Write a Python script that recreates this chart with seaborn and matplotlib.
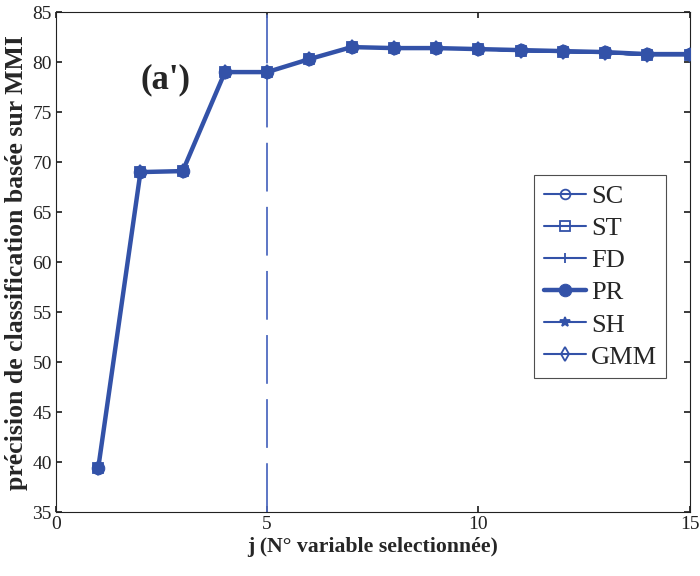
import numpy as np
import pandas as pd
import matplotlib
matplotlib.use("Agg")
import matplotlib.pyplot as plt
import seaborn as sns

j = [1, 2, 3, 4, 5, 6, 7, 8, 9, 10, 11, 12, 13, 14, 15]
sc = [39.4, 69.0, 69.1, 79.0, 79.0, 80.3, 81.5, 81.4, 81.4, 81.3, 81.1, 81.0, 80.9, 80.7, 80.7]
st = [39.4, 69.0, 69.1, 79.0, 79.0, 80.3, 81.5, 81.4, 81.4, 81.3, 81.1, 81.0, 80.9, 80.7, 80.7]
fd = [39.4, 69.0, 69.1, 79.0, 79.0, 80.3, 81.5, 81.4, 81.4, 81.3, 81.1, 81.0, 80.9, 80.7, 80.7]
pr = [39.4, 69.0, 69.1, 79.0, 79.0, 80.3, 81.5, 81.4, 81.4, 81.3, 81.2, 81.1, 81.0, 80.8, 80.8]
sh = [39.4, 69.0, 69.1, 79.0, 79.0, 80.3, 81.5, 81.4, 81.4, 81.3, 81.1, 81.0, 80.9, 80.7, 80.7]
gmm = [39.4, 69.0, 69.1, 79.0, 79.0, 80.3, 81.5, 81.4, 81.4, 81.3, 81.1, 81.0, 80.9, 80.7, 80.7]
series_names = ["SC", "ST", "FD", "PR", "SH", "GMM"]
series_vals = [sc, st, fd, pr, sh, gmm]
markers = ["o", "s", "|", "o", "*", "d"]

sns.set_theme(style="white")
plt.rcParams["font.family"] = ["Liberation Serif", "DejaVu Serif"]

color = "#3352A8"
fig = plt.figure(figsize=(7, 5.76), dpi=100)
ax = fig.add_axes([0.08, 0.111, 0.905, 0.868])

for name, vals, m in zip(series_names, series_vals, markers):
    df = pd.DataFrame({"j": j, "v": vals})
    if name == "PR":
        sns.lineplot(data=df, x="j", y="v", ax=ax, color=color, lw=3.2, marker="o",
                     markersize=9, markeredgecolor=color, markerfacecolor=color, label=name, zorder=5)
    else:
        sns.lineplot(data=df, x="j", y="v", ax=ax, color=color, lw=1.5, marker=m,
                     markersize=7, markeredgecolor=color,
                     markerfacecolor=(color if m == "*" else "none"),
                     markeredgewidth=1.3, label=name)

ax.axvline(5, color="#4F6BC0", lw=1.3, ls=(0, (27, 8.5)), zorder=1)

ax.set_xlim(0, 15)
ax.set_ylim(35, 85)
ax.set_xticks([0, 5, 10, 15])
ax.set_yticks(range(35, 86, 5))
ax.tick_params(direction="in", length=4, labelsize=14, colors="#222222", bottom=True, left=True,
               top=True, right=True, pad=3)
for s in ax.spines.values():
    s.set_color("#222222")
    s.set_linewidth(0.8)

ax.set_xlabel("j (N° variable selectionnée)", fontsize=15.7, fontweight="bold", labelpad=3)
ax.set_ylabel("précision de classification basée sur MMI", fontsize=18.5, fontweight="bold", labelpad=3)

ax.text(2.59, 78.2, "(a')", fontsize=25, fontweight="bold", ha="center", va="center")

leg = ax.legend(loc="upper left", bbox_to_anchor=(0.755, 0.674), fontsize=19, frameon=True,
                fancybox=False, edgecolor="#222222", handlelength=1.6, labelspacing=0.33,
                borderpad=0.35, handletextpad=0.2, borderaxespad=0)
leg.get_frame().set_linewidth(0.8)

fig.savefig("out.png", dpi=100)
